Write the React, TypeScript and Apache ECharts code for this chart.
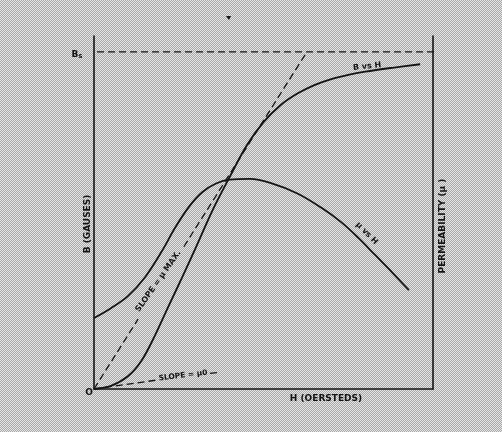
import React, { useEffect, useRef } from "react";
import * as echarts from "echarts";

// B vs H magnetization curve (H in % of axis, B in % of axis)
const hB = [0, 5, 10, 14, 18, 22, 26, 30, 35, 40, 45, 50, 55, 60, 65, 70, 75, 80, 88, 96.2];
const bValues = [0, 0.9, 3.6, 8.0, 15.2, 23.5, 31.6, 40.0, 50.7, 60.0, 68.9, 75.6, 80.4, 83.7, 86.1, 87.8, 89.0, 89.9, 91.0, 92.0];

// permeability vs H
const hMu = [0, 5, 10, 15, 20, 24, 28, 32, 36, 40, 46, 52, 60, 67, 73, 78, 83, 88, 92.9];
const muValues = [20.1, 22.9, 26.3, 31.6, 39.0, 45.8, 51.6, 55.8, 58.2, 59.3, 59.5, 58.4, 55.4, 51.4, 47.2, 42.8, 37.9, 33.0, 28.0];

// straight reference lines
const bsLevel = 95.5;
const bsLine = [[0.9, bsLevel], [101.5, bsLevel]];
const muMaxLineA = [[0, 0], [13, 19.8]];
const muMaxLineB = [[26.5, 40.3], [62.8, 95.5]];
const mu0LineA = [[0, 0], [18.3, 2.5]];
const mu0LineB = [[34.2, 4.4], [36.9, 4.7]];

// texts
const yTickTop = "Bs";
const originLabel = "O";
const xTitle = "H (OERSTEDS)";
const yTitle = "B (GAUSES)";
const y2Title = "PERMEABILITY (μ )";
const bCurveLabel = "B vs H";
const muCurveLabel = "μ vs H";
const muMaxLabel = "SLOPE = μ MAX.";
const mu0Label = "SLOPE = μ0";

const INK = "#141414";
const FONT = "DejaVu Sans";

export default function App() {
  const ref = useRef<HTMLDivElement>(null);

  useEffect(() => {
    if (!ref.current) return;
    const chart = echarts.init(ref.current, undefined, { renderer: "svg" });
    const solid = (name: string, xs: number[], ys: number[], yIdx: number) => ({
      name,
      type: "line",
      yAxisIndex: yIdx,
      data: xs.map((x, i) => [x, ys[i]]),
      smooth: 0.35,
      showSymbol: false,
      symbol: "none",
      lineStyle: { color: INK, width: 1.8 },
      silent: true,
    });
    const dashed = (name: string, data: number[][]) => ({
      name,
      type: "line",
      data,
      showSymbol: false,
      symbol: "none",
      clip: false,
      lineStyle: { color: INK, width: 1.3, type: [7, 4] },
      silent: true,
    });
    const txt = (text: string, x: number, y: number, rot: number, size: number) => ({
      type: "text",
      x,
      y,
      rotation: rot,
      style: {
        text,
        fill: INK,
        font: `bold ${size}px "${FONT}"`,
        textAlign: "center",
        textVerticalAlign: "middle",
      },
    });
    const axisStyle = {
      show: true,
      onZero: false,
      lineStyle: { color: INK, width: 1.6 },
    };
    chart.setOption({
      animation: false,
      backgroundColor: "transparent",
      grid: { left: 94, right: 69, top: 36, bottom: 43, containLabel: false },
      xAxis: {
        type: "value",
        min: 0,
        max: 100,
        axisLine: axisStyle,
        axisTick: { show: false },
        axisLabel: { show: false },
        splitLine: { show: false },
      },
      yAxis: [
        {
          type: "value",
          min: 0,
          max: 100,
          position: "left",
          axisLine: axisStyle,
          axisTick: { show: false },
          axisLabel: { show: false },
          splitLine: { show: false },
        },
        {
          type: "value",
          min: 0,
          max: 100,
          position: "right",
          axisLine: axisStyle,
          axisTick: { show: false },
          axisLabel: { show: false },
          splitLine: { show: false },
        },
      ],
      series: [
        solid("B vs H", hB, bValues, 0),
        solid("μ vs H", hMu, muValues, 1),
        dashed("Bs", bsLine),
        dashed("μmax a", muMaxLineA),
        dashed("μmax b", muMaxLineB),
        dashed("μ0 a", mu0LineA),
        dashed("μ0 b", mu0LineB),
      ],
      graphic: [
        {
          type: "text",
          x: 77,
          y: 54,
          style: {
            text: `{b|${yTickTop[0]}}{s|${yTickTop.slice(1)}}`,
            textAlign: "center",
            textVerticalAlign: "middle",
            rich: {
              b: { font: `bold 9px "${FONT}"`, fill: INK },
              s: { font: `bold 7px "${FONT}"`, fill: INK, padding: [4, 0, 0, 0] },
            },
          },
        },
        txt(originLabel, 89, 392, 0, 9),
        txt(xTitle, 326, 398, 0, 9),
        txt(yTitle, 87, 224, Math.PI / 2, 9),
        txt(y2Title, 442, 226, Math.PI / 2, 9),
        txt(bCurveLabel, 367, 66, 0.1, 8),
        txt(muCurveLabel, 367, 233, -0.8, 8),
        txt(muMaxLabel, 158, 281, 0.96, 8),
        txt(mu0Label, 183, 375, 0.12, 7.5),
        {
          type: "polygon",
          shape: { points: [[226, 16], [231, 16], [229, 20]] },
          style: { fill: INK },
        },
      ],
    });
    return () => chart.dispose();
  }, []);

  return (
    <div
      style={{
        position: "fixed",
        left: 0,
        top: 0,
        width: 502,
        height: 432,
        background:
          "repeating-conic-gradient(#a8a8a8 0% 25%, #e6e6e6 0% 50%) 0 0 / 2px 2px",
      }}
    >
      <div ref={ref} style={{ width: 502, height: 432 }} />
    </div>
  );
}
